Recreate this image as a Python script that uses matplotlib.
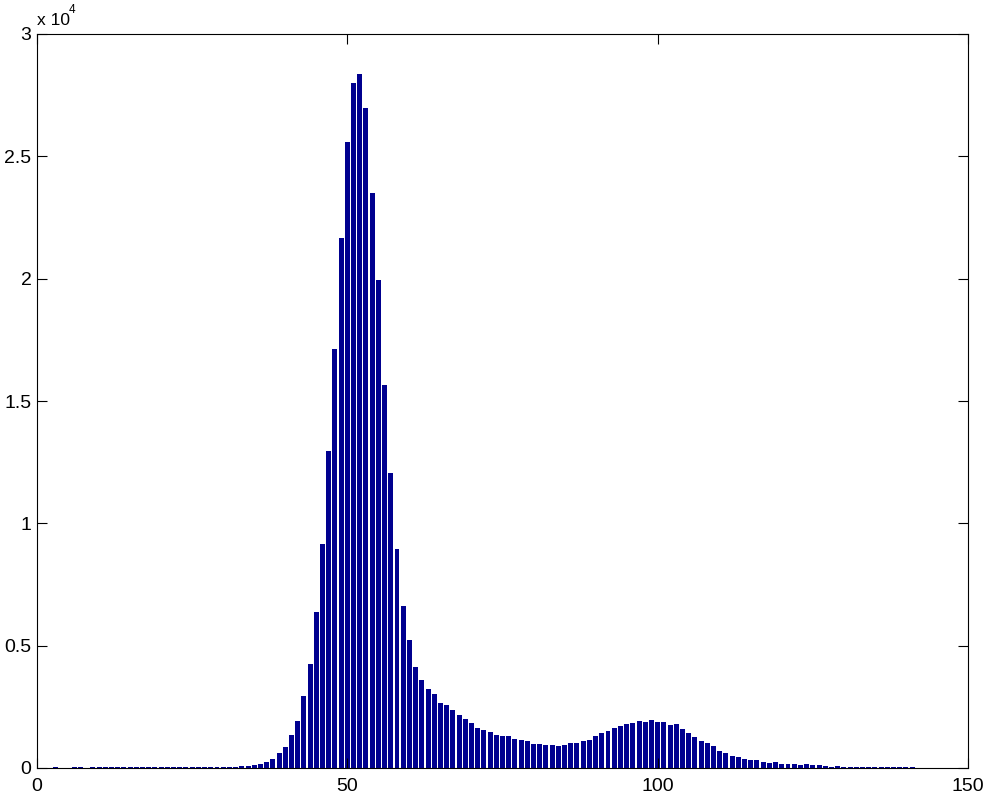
#!/usr/bin/env python3
"""Histogram bar chart in the old MATLAB look (bars 1..141, y in units of 10^4)."""

from __future__ import annotations

import matplotlib

matplotlib.use("Agg")
import matplotlib.pyplot as plt
from matplotlib.ticker import FuncFormatter


BAR_COLOR = "#00008f"

# bin index (1..141) and count
bins = list(range(1, 142))
counts = [
    0, 0, 40, 0, 0, 40, 40, 0, 40, 40,  # 1-10
    40, 40, 40, 40, 40, 40, 40, 40, 40, 40,  # 11-20
    40, 40, 40, 40, 40, 40, 40, 40, 40, 40,  # 21-30
    40, 40, 80, 80, 120, 160, 250, 370, 610, 860,  # 31-40
    1350, 1920, 2940, 4250, 6380, 9150, 12950, 17120, 21660, 25600,  # 41-50
    28000, 28360, 26970, 23500, 19940, 15650, 12060, 8950, 6620, 5230,  # 51-60
    4130, 3600, 3230, 3020, 2660, 2570, 2370, 2170, 2000, 1840,  # 61-70
    1630, 1550, 1470, 1350, 1310, 1310, 1190, 1140, 1100, 980,  # 71-80
    980, 940, 940, 900, 940, 1020, 1020, 1100, 1140, 1310,  # 81-90
    1430, 1510, 1630, 1720, 1800, 1840, 1920, 1880, 1960, 1880,  # 91-100
    1880, 1760, 1800, 1590, 1430, 1270, 1100, 1020, 900, 690,  # 101-110
    610, 490, 450, 370, 330, 330, 250, 200, 250, 160,  # 111-120
    160, 160, 120, 160, 120, 120, 80, 40, 80, 40,  # 121-130
    40, 40, 40, 40, 40, 40, 40, 40, 40, 40, 40,  # 131-141
]

x_ticks = [0, 50, 100, 150]
y_ticks = [0, 5000, 10000, 15000, 20000, 25000, 30000]


def main() -> None:
    plt.rcParams["font.family"] = ["Liberation Sans", "DejaVu Sans"]

    fig = plt.figure(figsize=(9.89, 7.98), dpi=100)
    ax = fig.add_axes([37 / 989, 30 / 798, 931 / 989, 734 / 798])

    ax.bar(bins, counts, width=0.8, color=BAR_COLOR, linewidth=0)

    ax.set_xlim(0, 150)
    ax.set_ylim(0, 30000)
    ax.set_xticks(x_ticks)
    ax.set_yticks(y_ticks)
    ax.yaxis.set_major_formatter(FuncFormatter(lambda v, _: f"{v / 1e4:g}"))

    ax.tick_params(
        direction="in", length=7, width=0.8, labelsize=14,
        top=True, right=True, colors="black",
    )
    ax.tick_params(axis="x", pad=7)
    ax.tick_params(axis="y", pad=4)
    for spine in ax.spines.values():
        spine.set_linewidth(0.8)

    # MATLAB style exponent label above the y axis
    ax.text(0.0, 1.008, "x 10", transform=ax.transAxes, fontsize=12.5,
            ha="left", va="bottom")
    ax.text(0.0345, 1.024, "4", transform=ax.transAxes, fontsize=8.5,
            ha="left", va="bottom")

    fig.savefig("out.png", dpi=100)


if __name__ == "__main__":
    main()
